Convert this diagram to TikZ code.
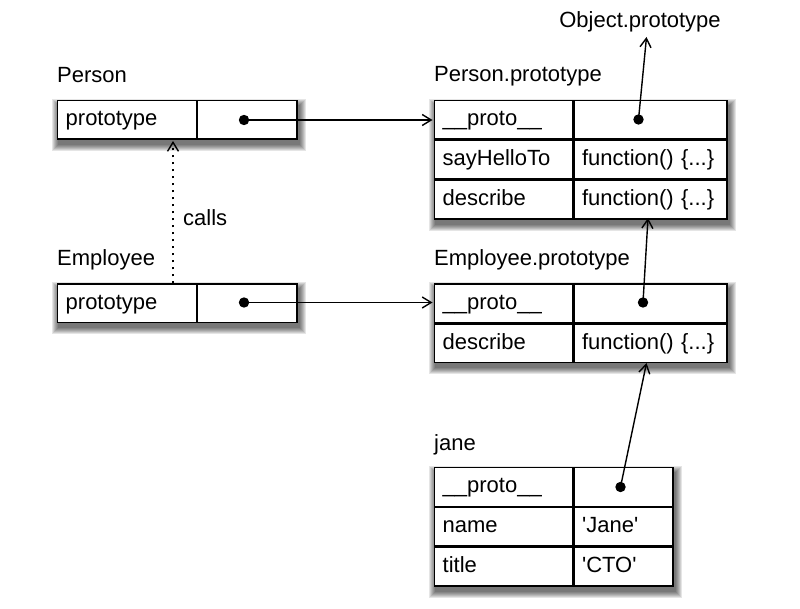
\documentclass[tikz,border=0pt]{standalone}
\usepackage{fontspec}
\setmainfont{Liberation Sans}
\usetikzlibrary{arrows.meta,backgrounds}
\begin{document}
\begin{tikzpicture}[x=1pt,y=-1pt,
  every node/.style={font=\fontsize{22}{26}\selectfont},
  lab/.style={inner sep=0pt},
  cell/.style={draw, line width=1.4pt, fill=white, anchor=north west,
    inner xsep=8pt, inner ysep=0pt, text height=25pt, text depth=13.5pt,
    align=left, text width=#1},
  arr/.style={line width=1.4pt, -{Straight Barb[length=9pt,width=11pt,line width=1.4pt]}}
]
\useasboundingbox (0,0) rectangle (800,609);

% labels
\node[lab, anchor=base west] (lperson) at (57,83) {Person};
\node[lab, anchor=base west] (lemp) at (57,266) {Employee};
\node[lab, anchor=base west] (lpp) at (434,82) {Person.prototype};
\node[lab, anchor=base west] (lep) at (434,266) {Employee.prototype};
\node[lab, anchor=base west] (ljane) at (434,450) {jane};
\node[lab, anchor=base] (obj) at (640,28) {Object.prototype};
\node[lab, anchor=base west] (calls) at (183,226) {calls};

% Person
\node[cell=122.5pt] (pl) at (57,100) {prototype};
\node[cell=83.5pt] (pr) at (pl.north east) {};
% Employee
\node[cell=122.5pt] (el) at (57,283.5) {prototype};
\node[cell=83.5pt] (er) at (el.north east) {};

% Person.prototype
\node[cell=122pt] (pp1l) at (434,100) {\_\_proto\_\_};
\node[cell=137pt] (pp1r) at (pp1l.north east) {};
\node[cell=122pt] (pp2l) at (pp1l.south west) {sayHelloTo};
\node[cell=137pt] (pp2r) at (pp2l.north east) {function() \{...\}};
\node[cell=122pt] (pp3l) at (pp2l.south west) {describe};
\node[cell=137pt] (pp3r) at (pp3l.north east) {function() \{...\}};

% Employee.prototype
\node[cell=122pt] (ep1l) at (434,283.5) {\_\_proto\_\_};
\node[cell=137pt] (ep1r) at (ep1l.north east) {};
\node[cell=122pt] (ep2l) at (ep1l.south west) {describe};
\node[cell=137pt] (ep2r) at (ep2l.north east) {function() \{...\}};

% jane
\node[cell=122pt] (j1l) at (434,467) {\_\_proto\_\_};
\node[cell=83pt] (j1r) at (j1l.north east) {};
\node[cell=122pt] (j2l) at (j1l.south west) {name};
\node[cell=83pt] (j2r) at (j2l.north east) {\textquotesingle Jane\textquotesingle};
\node[cell=122pt] (j3l) at (j2l.south west) {title};
\node[cell=83pt] (j3r) at (j3l.north east) {\textquotesingle CTO\textquotesingle};

% shadows
\begin{pgfonlayer}{background}
\foreach \a/\b in {pl/pr, el/er, pp1l/pp3r, ep1l/ep2r, j1l/j3r}{
  \foreach \e in {0,...,6}{
    \fill[black,opacity=0.1]
      ([xshift={(1-\e)*1pt}, yshift={(-5+\e)*1pt}]\a.north west)
      rectangle ([xshift={(2+\e)*1pt}, yshift={(-5-\e)*1pt}]\b.south east);
  }
}
\end{pgfonlayer}

% dots
\coordinate (pdot) at (244,120);
\coordinate (edot) at (244,302.5);
\coordinate (ppdot) at (638.5,119.5);
\coordinate (epdot) at (643,302.5);
\coordinate (jdot) at (620.5,487);
\foreach \d in {pdot,edot,ppdot,epdot,jdot} \fill (\d) circle (5.2pt);

% targets
\coordinate (objtip) at (646.5,37);
\coordinate (pptip) at (648,218);
\coordinate (eptip) at (646.5,363);
\coordinate (cfrom) at (173,283.5);
\coordinate (cto) at (173,141);

% connectors
\draw[arr, shorten >=1.5pt] (pdot) -- (pdot -| pp1l.west);
\draw[arr, shorten >=1.5pt] (edot) -- (edot -| ep1l.west);
\draw[arr] (ppdot) -- (objtip);
\draw[arr] (epdot) -- (pptip);
\draw[arr] (jdot) -- (eptip);
\draw[line width=1.6pt, dash pattern=on 2.5pt off 4.5pt, -{Straight Barb[length=9pt,width=11pt,line width=1.4pt]}] (cfrom) -- (cto);
\end{tikzpicture}
\end{document}
